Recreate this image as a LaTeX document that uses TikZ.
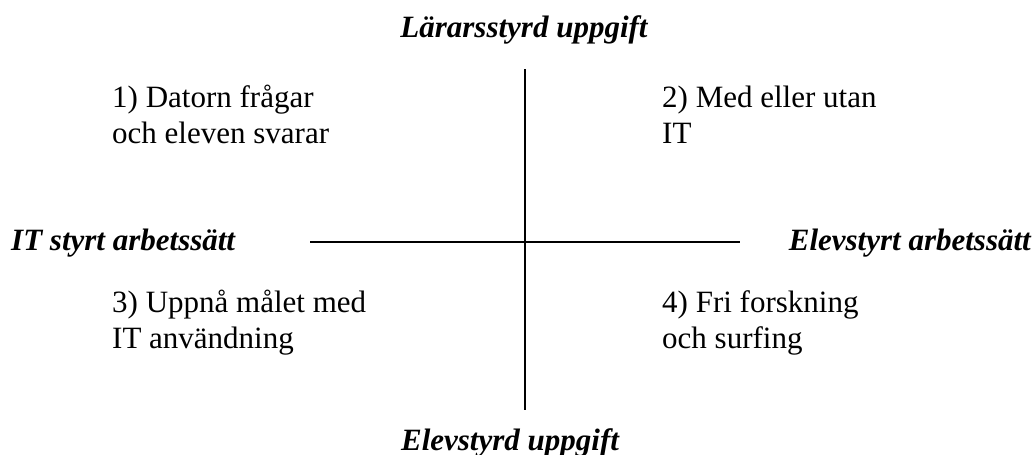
\documentclass[tikz,border=0pt]{standalone}
\usepackage{fontspec}
\setmainfont{Liberation Serif}
\begin{document}
\begin{tikzpicture}[x=1pt,y=-1pt,
  txt/.style={inner sep=0pt,font=\fontsize{31}{31}\selectfont},
  axislabel/.style={txt,font=\fontsize{31}{31}\selectfont\bfseries\itshape},
  axis/.style={line width=1.6pt}]
\useasboundingbox (0,0) rectangle (1034,455);
% axis end points
\coordinate (vtop) at (525,69);
\coordinate (vbot) at (525,410);
\coordinate (hleft) at (310,242);
\coordinate (hright) at (740,242);
\draw[axis] (vtop) -- (vbot);
\draw[axis] (hleft) -- (hright);
% axis labels
\node[axislabel,anchor=base] (top) at (524,37) {Lärarsstyrd uppgift};
\node[axislabel,anchor=base] (bottom) at (510,450) {Elevstyrd uppgift};
\node[axislabel,anchor=base west] (left) at (11,250) {IT styrt arbetssätt};
\node[axislabel,anchor=base east] (right) at (1031,250) {Elevstyrt arbetssätt};
% quadrant texts
\node[txt,anchor=base west] (q1a) at (112,107) {1) Datorn frågar};
\node[txt,anchor=base west] (q1b) at (112,143) {och eleven svarar};
\node[txt,anchor=base west] (q2a) at (662,107) {2) Med eller utan};
\node[txt,anchor=base west] (q2b) at (662,143) {IT};
\node[txt,anchor=base west] (q3a) at (112,312) {3) Uppnå målet med};
\node[txt,anchor=base west] (q3b) at (112,348) {IT användning};
\node[txt,anchor=base west] (q4a) at (662,312) {4) Fri forskning};
\node[txt,anchor=base west] (q4b) at (662,348) {och surfing};
\end{tikzpicture}
\end{document}
